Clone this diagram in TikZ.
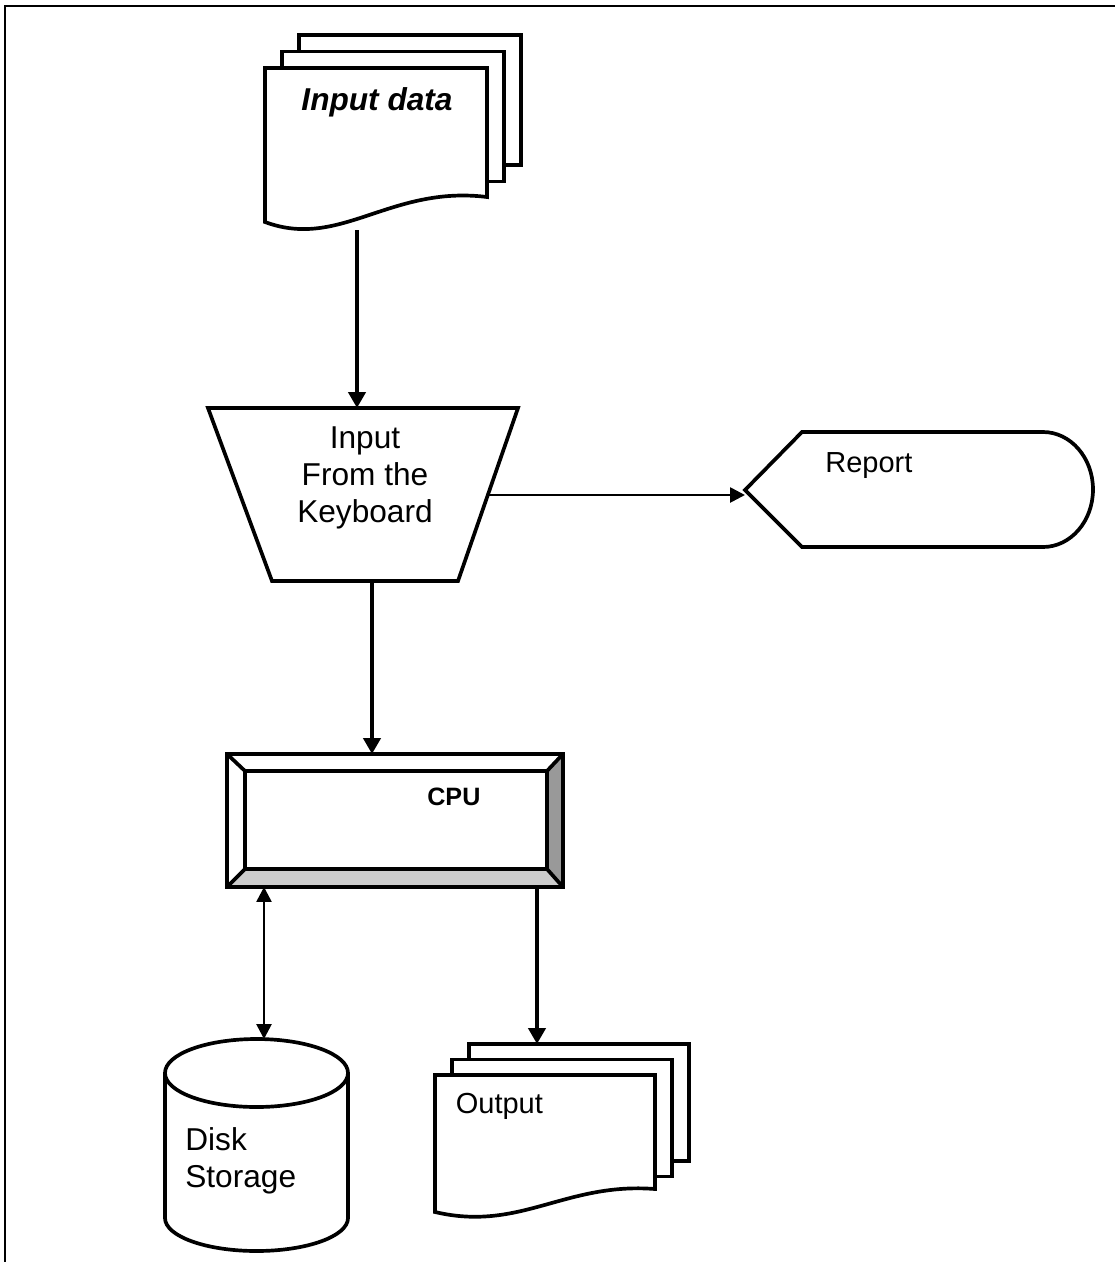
\documentclass[tikz,border=0pt]{standalone}
\usepackage{fontspec}
\setmainfont{Liberation Sans}
\usetikzlibrary{arrows.meta}

\begin{document}
\begin{tikzpicture}[x=0.02cm, y=-0.02cm,
  outline/.style = {draw, fill=white, line width=2.1pt},
  flow/.style = {-{Triangle[length=9pt, width=9.6pt]}, line width=2.4pt},
  link/.style = {-{Triangle[length=8.5pt, width=8.5pt]}, line width=1.5pt},
  twoway/.style = {link, {Triangle[length=8.5pt, width=8.5pt]}-{Triangle[length=8.5pt, width=8.5pt]}},
  txt/.style = {inner sep=0pt},
  big/.style = {font=\fontsize{18}{21}\selectfont},
  mid/.style = {font=\fontsize{16.5}{19}\selectfont}]
\useasboundingbox (0,0) rectangle (1115,1262);
\draw[line width=1.2pt] (5,1262) -- (5,6) -- (1115,6);

% input documents
\foreach \d in {2,1}
  \draw[outline] (265+17*\d,68-16.5*\d) rectangle ++(222,130);
\draw[outline] (265,222) -- (265,68) -- (487,68) -- (487,197) .. controls (390,185) and (340,250) .. cycle;
\node[txt, font=\fontsize{18}{21}\selectfont\bfseries\itshape, anchor=base] (indata) at (377,110) {Input data};
\coordinate (indata-out) at (357,230);

% keyboard
\draw[outline] (208,408) -- (518,408) -- (458,581) -- (272,581) -- cycle;
\node[txt, big, align=center] (kbd) at (365,478) {Input\\From the\\Keyboard};
\coordinate (kbd-in) at (357,408);
\coordinate (kbd-right) at (489,495);
\coordinate (kbd-out) at (372,581);

% report
\draw[outline] (745,490) -- (802,432) -- (1043,432) arc[start angle=-90, end angle=90, x radius=50, y radius=57.5] -- (802,547) -- cycle;
\node[txt, mid, anchor=base west] (report) at (825,472) {Report};
\coordinate (report-in) at (745,495);

% cpu
\fill[white] (227,754) rectangle (563,887);
\fill[black!40] (563,754) -- (563,887) -- (547,869) -- (547,771) -- cycle;
\fill[black!20] (227,887) -- (563,887) -- (547,869) -- (245,869) -- cycle;
\draw[line width=2.1pt] (227,754) rectangle (563,887) (245,771) rectangle (547,869)
  (227,754) -- (245,771) (563,754) -- (547,771) (563,887) -- (547,869) (227,887) -- (245,869);
\node[txt, font=\fontsize{14.3}{17}\selectfont\bfseries, anchor=base west] (cpu) at (427,805) {CPU};
\coordinate (cpu-in) at (372,754);
\coordinate (cpu-disk) at (264,887);
\coordinate (cpu-out) at (537,887);

% disk
\draw[outline] (165,1073) -- (165,1218) arc[start angle=180, end angle=0, x radius=91.5, y radius=33] -- (348,1073);
\draw[outline] (256.5,1073) ellipse [x radius=91.5, y radius=34];
\node[txt, big, align=left, anchor=west] (disk) at (185,1160.5) {Disk\\Storage};
\coordinate (disk-in) at (264,1039);

% output documents
\foreach \d in {2,1}
  \draw[outline] (435+17*\d,1075-15.5*\d) rectangle ++(220,117);
\draw[outline] (435,1212) -- (435,1075) -- (655,1075) -- (655,1189) .. controls (565,1182) and (520,1232) .. cycle;
\node[txt, mid, anchor=base west] (output) at (455.5,1113) {Output};
\coordinate (output-in) at (537,1044);

\draw[flow] (indata-out) -- (kbd-in);
\draw[link] (kbd-right) -- (report-in);
\draw[flow] (kbd-out) -- (cpu-in);
\draw[twoway] (cpu-disk) -- (disk-in);
\draw[flow] (cpu-out) -- (output-in);
\end{tikzpicture}
\end{document}
